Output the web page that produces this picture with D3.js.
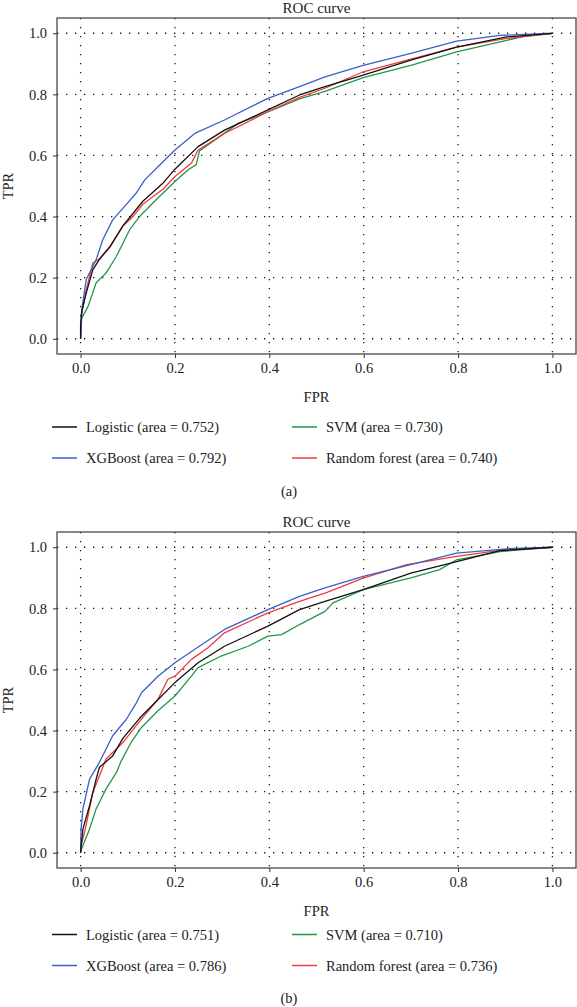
<!DOCTYPE html>
<html>
<head>
<meta charset="utf-8">
<script src="https://cdn.jsdelivr.net/npm/d3@7"></script>
<style>
  html, body { margin: 0; padding: 0; background: #fff; }
  svg { display: block; }
  text { font-family: "Liberation Serif", "DejaVu Serif", serif; fill: #222; }
</style>
</head>
<body>
<svg id="chart" width="577" height="1007"></svg>
<script>
// ---------- DATA ----------
const xTicks = [0.0, 0.2, 0.4, 0.6, 0.8, 1.0];
const yTicks = [0.0, 0.2, 0.4, 0.6, 0.8, 1.0];
const seriesNames = ["Logistic", "XGBoost", "SVM", "Random forest"];
const titleText = "ROC curve";
const xLabel = "FPR";
const yLabel = "TPR";

// Panel (a)
const aucA = [0.752, 0.792, 0.730, 0.740];
const logisticA_fpr = [0, 0, 0.002, 0.012, 0.026, 0.04, 0.062, 0.09, 0.111, 0.132, 0.175, 0.2, 0.249, 0.305, 0.397, 0.464, 0.518, 0.599, 0.70, 0.797, 0.903, 1.0];
const logisticA_tpr = [0, 0.04, 0.086, 0.15, 0.226, 0.26, 0.30, 0.37, 0.41, 0.45, 0.51, 0.555, 0.629, 0.683, 0.749, 0.798, 0.825, 0.863, 0.912, 0.955, 0.988, 1.0];
const xgbA_fpr = [0, 0.0035, 0.012, 0.033, 0.047, 0.068, 0.097, 0.118, 0.136, 0.164, 0.2, 0.242, 0.305, 0.397, 0.464, 0.518, 0.599, 0.70, 0.797, 0.889, 1.0];
const xgbA_tpr = [0, 0.106, 0.194, 0.259, 0.324, 0.389, 0.44, 0.477, 0.52, 0.563, 0.618, 0.672, 0.716, 0.787, 0.825, 0.857, 0.895, 0.934, 0.974, 0.993, 1.0];
const svmA_fpr = [0, 0.001, 0.016, 0.033, 0.054, 0.076, 0.104, 0.125, 0.16, 0.2, 0.228, 0.245, 0.252, 0.334, 0.397, 0.464, 0.518, 0.599, 0.70, 0.797, 0.903, 0.94, 1.0];
const svmA_tpr = [0, 0.063, 0.106, 0.183, 0.215, 0.27, 0.357, 0.4, 0.455, 0.515, 0.553, 0.57, 0.615, 0.705, 0.743, 0.785, 0.81, 0.855, 0.895, 0.939, 0.977, 0.99, 1.0];
const rfA_fpr = [0, 0.002, 0.012, 0.026, 0.04, 0.062, 0.09, 0.111, 0.132, 0.175, 0.2, 0.235, 0.249, 0.305, 0.397, 0.464, 0.518, 0.599, 0.70, 0.797, 0.903, 1.0];
const rfA_tpr = [0, 0.08, 0.16, 0.248, 0.262, 0.302, 0.37, 0.40, 0.44, 0.49, 0.531, 0.575, 0.618, 0.672, 0.743, 0.79, 0.82, 0.874, 0.915, 0.955, 0.983, 1.0];

// Panel (b)
const aucB = [0.751, 0.786, 0.710, 0.736];
const logisticB_fpr = [0, 0.001, 0.005, 0.019, 0.033, 0.04, 0.068, 0.09, 0.125, 0.16, 0.2, 0.249, 0.305, 0.397, 0.464, 0.518, 0.599, 0.70, 0.797, 0.889, 1.0];
const logisticB_tpr = [0, 0.02, 0.078, 0.154, 0.241, 0.28, 0.317, 0.375, 0.44, 0.495, 0.557, 0.622, 0.676, 0.742, 0.796, 0.823, 0.861, 0.915, 0.953, 0.989, 1.0];
const xgbB_fpr = [0, 0.001, 0.005, 0.019, 0.04, 0.068, 0.097, 0.118, 0.129, 0.164, 0.2, 0.242, 0.305, 0.397, 0.464, 0.518, 0.599, 0.70, 0.797, 0.903, 1.0];
const xgbB_tpr = [0, 0.078, 0.144, 0.241, 0.296, 0.383, 0.437, 0.49, 0.524, 0.578, 0.622, 0.666, 0.731, 0.796, 0.839, 0.867, 0.905, 0.943, 0.981, 0.995, 1.0];
const svmB_fpr = [0, 0.001, 0.019, 0.033, 0.054, 0.076, 0.086, 0.107, 0.129, 0.164, 0.2, 0.235, 0.249, 0.298, 0.355, 0.397, 0.426, 0.464, 0.518, 0.535, 0.599, 0.70, 0.761, 0.797, 0.889, 1.0];
const svmB_tpr = [0, 0.008, 0.078, 0.144, 0.209, 0.263, 0.3, 0.361, 0.41, 0.465, 0.513, 0.578, 0.606, 0.644, 0.676, 0.709, 0.714, 0.747, 0.79, 0.818, 0.861, 0.9, 0.927, 0.959, 0.986, 1.0];
const rfB_fpr = [0, 0.001, 0.009, 0.026, 0.04, 0.054, 0.09, 0.125, 0.164, 0.185, 0.2, 0.235, 0.27, 0.305, 0.397, 0.464, 0.518, 0.599, 0.691, 0.797, 0.889, 1.0];
const rfB_tpr = [0, 0.024, 0.07, 0.198, 0.252, 0.307, 0.361, 0.43, 0.502, 0.568, 0.578, 0.633, 0.671, 0.72, 0.785, 0.823, 0.85, 0.899, 0.943, 0.97, 0.99, 1.0];

// ---------- STYLE ----------
const colors = ["#111111", "#3b5fc8", "#239648", "#f23a3a"];

const svg = d3.select("#chart");

function zip(xs, ys) { return xs.map((x, i) => [x, ys[i]]); }

function drawPanel(cfg) {
  const x = d3.scaleLinear().domain([-0.05, 1.05]).range([57, 576]);
  const y = d3.scaleLinear().domain([-0.05, 1.05]).range([cfg.bottom, cfg.top]);
  const g = svg.append("g");

  // grid
  const grid = g.append("g").attr("stroke", "#1a1a1a").attr("stroke-width", 1.3)
    .attr("stroke-dasharray", "1.3,7.7").attr("fill", "none");
  grid.selectAll("line.v").data(xTicks).join("line").attr("class", "v")
    .attr("x1", d => x(d)).attr("x2", d => x(d))
    .attr("y1", cfg.top).attr("y2", cfg.bottom);
  grid.selectAll("line.h").data(yTicks).join("line").attr("class", "h")
    .attr("y1", d => y(d)).attr("y2", d => y(d))
    .attr("x1", 57).attr("x2", 576);

  // axes
  const xAxis = d3.axisBottom(x).tickValues(xTicks).tickFormat(d3.format(".1f")).tickSize(4).tickPadding(5);
  const yAxis = d3.axisLeft(y).tickValues(yTicks).tickFormat(d3.format(".1f")).tickSize(4).tickPadding(6);
  const gx = g.append("g").attr("transform", `translate(0,${cfg.bottom})`).call(xAxis);
  const gy = g.append("g").attr("transform", `translate(57,0)`).call(yAxis);
  [gx, gy].forEach(a => {
    a.select(".domain").remove();
    a.selectAll(".tick line").attr("stroke", "#333").attr("stroke-width", 1);
    a.selectAll(".tick text").attr("font-family", "Liberation Serif, serif")
      .attr("font-size", 14.5).attr("fill", "#222");
  });

  // curves
  const line = d3.line().x(d => x(d[0])).y(d => y(d[1]));
  const clipId = "clip" + cfg.id;
  g.append("clipPath").attr("id", clipId).append("rect")
    .attr("x", 57).attr("y", cfg.top).attr("width", 519).attr("height", cfg.bottom - cfg.top);
  const order = [2, 3, 1, 0];
  order.forEach(i => {
    g.append("path").datum(zip(cfg.series[i][0], cfg.series[i][1]))
      .attr("clip-path", `url(#${clipId})`)
      .attr("fill", "none").attr("stroke", colors[i]).attr("stroke-width", 1.3)
      .attr("stroke-linejoin", "round").attr("d", line);
  });

  // frame
  g.append("rect").attr("x", 57).attr("y", cfg.top).attr("width", 519).attr("height", cfg.bottom - cfg.top)
    .attr("fill", "none").attr("stroke", "#3a3a3a").attr("stroke-width", 1.2);

  // title & labels
  g.append("text").attr("x", 316.5).attr("y", cfg.top - 5.5).attr("text-anchor", "middle")
    .attr("font-size", 15).text(titleText);
  g.append("text").attr("x", 316.5).attr("y", cfg.bottom + 48).attr("text-anchor", "middle")
    .attr("font-size", 14.5).text(xLabel);
  g.append("text").attr("transform", `translate(13,${(cfg.top + cfg.bottom) / 2}) rotate(-90)`)
    .attr("text-anchor", "middle").attr("font-size", 14.5).text(yLabel);

  // legend
  const legPos = [[0, 0], [0, 1], [1, 0], [1, 1]];
  const colX = [52, 292];
  seriesNames.forEach((name, i) => {
    const [c, r] = legPos[i];
    const ly = cfg.legendY + r * cfg.legendGap;
    g.append("line").attr("x1", colX[c]).attr("x2", colX[c] + 25)
      .attr("y1", ly).attr("y2", ly).attr("stroke", colors[i]).attr("stroke-width", 1.5);
    g.append("text").attr("x", colX[c] + 34).attr("y", ly + 5).attr("font-size", 14.5)
      .text(`${name} (area = ${cfg.auc[i].toFixed(3)})`);
  });

  // panel label
  g.append("text").attr("x", 289).attr("y", cfg.labelY).attr("text-anchor", "middle")
    .attr("font-size", 14.5).text(cfg.label);
}

drawPanel({
  id: "a", top: 18, bottom: 354, legendY: 427, legendGap: 31, labelY: 496, label: "(a)", auc: aucA,
  series: [[logisticA_fpr, logisticA_tpr], [xgbA_fpr, xgbA_tpr], [svmA_fpr, svmA_tpr], [rfA_fpr, rfA_tpr]]
});
drawPanel({
  id: "b", top: 532, bottom: 868, legendY: 934.5, legendGap: 31, labelY: 1003, label: "(b)", auc: aucB,
  series: [[logisticB_fpr, logisticB_tpr], [xgbB_fpr, xgbB_tpr], [svmB_fpr, svmB_tpr], [rfB_fpr, rfB_tpr]]
});
</script>
</body>
</html>
